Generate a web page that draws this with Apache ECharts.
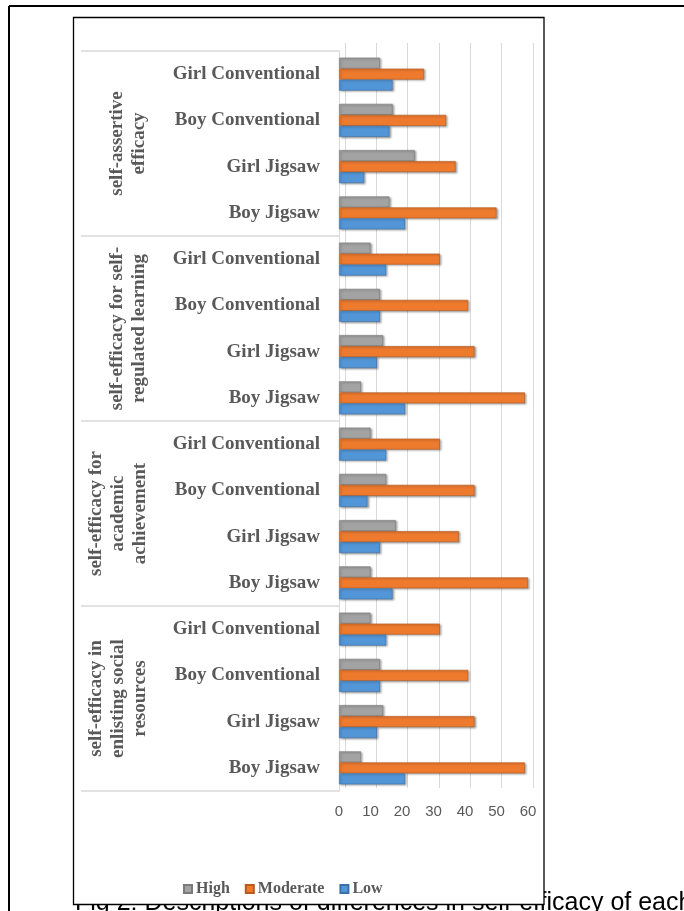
<!DOCTYPE html>
<html>
<head>
<meta charset="utf-8">
<script src="https://cdn.jsdelivr.net/npm/echarts@6/dist/echarts.min.js"></script>
<style>html,body{margin:0;padding:0;background:#fff;}#chart{width:684px;height:911px;}</style>
</head>
<body>
<div id="chart"></div>
<script>
// ---- data ----
var groups = [
  'self-assertive\nefficacy',
  'self-efficacy for self-\nregulated learning',
  'self-efficacy for\nacademic\nachievement',
  'self-efficacy in\nenlisting social\nresources'
];
var subjects = ['Girl Conventional', 'Boy Conventional', 'Girl Jigsaw', 'Boy Jigsaw'];
var categories = [];
groups.forEach(function (g) { subjects.forEach(function (s) { categories.push(s); }); });

var seriesNames = ['High', 'Moderate', 'Low'];
var highValues     = [13, 17, 24, 16,  10, 13, 14, 7,  10, 15, 18, 10,  10, 13, 14, 7];
var moderateValues = [27, 34, 37, 50,  32, 41, 43, 59, 32, 43, 38, 60,  32, 41, 43, 59];
var lowValues      = [17, 16, 8, 21,   15, 13, 12, 21, 15, 9, 13, 17,   15, 13, 12, 21];
var xTicks = [0, 10, 20, 30, 40, 50, 60];
var caption = 'Fig 2: Descriptions of differences in self-efficacy of each';

var colors = ['#A3A3A3', '#EE7A2E', '#5396D8'];
var edgeColors = ['#7a7a7a', '#b85a1c', '#3a70a8'];

var chart = echarts.init(document.getElementById('chart'), null, {renderer: 'canvas'});

var plotTop = 51, plotBottom = 791;
var bandH = (plotBottom - plotTop) / categories.length;

var graphics = [
  // outer frame
  {type: 'line', z: -20, shape: {x1: 9, y1: 6, x2: 684, y2: 6}, style: {stroke: '#000', lineWidth: 2}},
  {type: 'line', z: -20, shape: {x1: 9, y1: 6, x2: 9, y2: 911}, style: {stroke: '#000', lineWidth: 2}},
  // caption (partly hidden by the chart box)
  {type: 'text', z: -15, x: 75, y: 891, style: {text: caption, font: '25px "Liberation Sans", Arial, sans-serif', fill: '#000', verticalAlign: 'top'}},
  // chart box
  {type: 'rect', z: -10, shape: {x: 73.5, y: 17.5, width: 470.5, height: 887}, style: {fill: '#fff', stroke: '#000', lineWidth: 1.3}}
];
groups.forEach(function (g, i) {
  var lines = g.split('\n').length;
  var cy = plotTop + bandH * subjects.length * (i + 0.5);
  graphics.push({
    type: 'text', z: 5,
    x: lines === 2 ? 128 : 118, y: cy,
    rotation: Math.PI / 2,
    style: {text: g, font: 'bold 19px "Liberation Serif", "Times New Roman", serif', fill: '#595959', align: 'center', verticalAlign: 'middle', lineHeight: 22}
  });
});

function mkSeries(name, data, idx) {
  return {
    name: name, type: 'bar', xAxisIndex: 0, yAxisIndex: 0,
    data: data, barWidth: 11, barGap: '0%',
    itemStyle: {
      color: colors[idx], borderColor: edgeColors[idx], borderWidth: 0.6,
      shadowColor: 'rgba(0,0,0,0.35)', shadowBlur: 2, shadowOffsetX: 1.5, shadowOffsetY: 1
    }
  };
}

var option = {
  animation: false,
  backgroundColor: '#fff',
  color: colors,
  graphic: graphics,
  legend: {
    data: seriesNames, left: 178, top: 876,
    icon: 'rect', itemWidth: 8, itemHeight: 8, itemGap: 15,
    textStyle: {fontFamily: '"Liberation Serif", "Times New Roman", serif', fontWeight: 'bold', fontSize: 16, color: '#595959', padding: [0, 0, 0, -1]}
  },
  grid: [
    {left: 339, top: plotTop, width: 189, height: plotBottom - plotTop},
    {left: 345, top: 43, width: 188, height: 745}
  ],
  xAxis: [
    {
      gridIndex: 0, type: 'value', min: 0, max: 60, interval: 10,
      axisLine: {show: false}, axisTick: {show: false}, splitLine: {show: false},
      axisLabel: {margin: 13, fontFamily: '"Liberation Sans", Arial, sans-serif', fontSize: 15, color: '#595959',
        formatter: function (v) { return xTicks.indexOf(v) >= 0 ? String(v) : ''; }}
    },
    {
      gridIndex: 1, type: 'value', min: 0, max: 60, interval: 10,
      axisLine: {show: false}, axisTick: {show: false}, axisLabel: {show: false},
      splitLine: {show: true, lineStyle: {color: '#D9D9D9', width: 1}}
    }
  ],
  yAxis: [
    {
      gridIndex: 0, type: 'category', data: categories, inverse: true,
      axisLine: {show: true, lineStyle: {color: '#D9D9D9'}},
      axisTick: {show: false},
      axisLabel: {margin: 19, fontFamily: '"Liberation Serif", "Times New Roman", serif', fontWeight: 'bold', fontSize: 19, color: '#595959'}
    },
    {
      gridIndex: 0, type: 'category', data: groups, inverse: true, position: 'left',
      axisLine: {show: false},
      axisTick: {show: true, length: 258, lineStyle: {color: '#D9D9D9', width: 1.5}},
      axisLabel: {show: false}
    },
    {gridIndex: 1, type: 'value', show: false}
  ],
  series: [
    mkSeries(seriesNames[0], highValues, 0),
    mkSeries(seriesNames[1], moderateValues, 1),
    mkSeries(seriesNames[2], lowValues, 2)
  ]
};
chart.setOption(option);
</script>
</body>
</html>
